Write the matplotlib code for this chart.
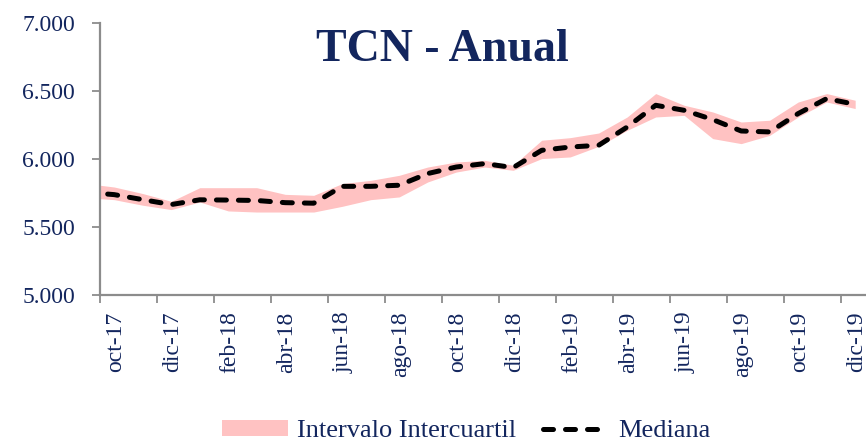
import matplotlib
matplotlib.use("Agg")
import matplotlib.pyplot as plt
import numpy as np
from matplotlib.ticker import FuncFormatter, FixedLocator
from matplotlib.patches import Patch
from matplotlib.lines import Line2D

# categories (sep-17 lies just outside the visible axis range)
months = ['sep-17', 'oct-17', 'nov-17', 'dic-17',
          'ene-18', 'feb-18', 'mar-18', 'abr-18', 'may-18', 'jun-18',
          'jul-18', 'ago-18', 'sep-18', 'oct-18', 'nov-18', 'dic-18',
          'ene-19', 'feb-19', 'mar-19', 'abr-19', 'may-19', 'jun-19',
          'jul-19', 'ago-19', 'sep-19', 'oct-19', 'nov-19', 'dic-19']
mediana = [5755, 5738, 5701, 5665,
           5700, 5698, 5695, 5679, 5675, 5799,
           5799, 5807, 5893, 5941, 5966, 5937,
           6064, 6088, 6101, 6235, 6395, 6358,
           6290, 6206, 6199, 6334, 6444, 6402]
q_sup = [5820, 5794, 5746, 5689,
         5789, 5789, 5789, 5740, 5733, 5819,
         5843, 5880, 5941, 5978, 5990, 5954,
         6138, 6157, 6191, 6309, 6481, 6395,
         6346, 6272, 6285, 6419, 6481, 6432]
q_inf = [5716, 5701, 5660, 5628,
         5684, 5618, 5610, 5610, 5610, 5652,
         5701, 5721, 5831, 5904, 5941, 5917,
         6003, 6015, 6093, 6211, 6309, 6321,
         6150, 6113, 6174, 6309, 6419, 6371]
tick_labels = ['oct-17', 'dic-17', 'feb-18', 'abr-18', 'jun-18', 'ago-18',
               'oct-18', 'dic-18', 'feb-19', 'abr-19', 'jun-19', 'ago-19',
               'oct-19', 'dic-19']
title = 'TCN - Anual'

navy = '#13265e'
axis_gray = '#8c8c8c'
band_color = '#ffc2c2'
serif = ['Liberation Serif', 'DejaVu Serif']

fig = plt.figure(figsize=(8.66, 4.44), dpi=100)
ax = fig.add_axes([100 / 866, 149 / 444, 1 - 100 / 866, 272 / 444])

x = np.arange(len(months)) - 1
ax.fill_between(x, q_inf, q_sup, color=band_color, lw=0, zorder=1)
ax.plot(x, mediana, color='black', lw=3.6, linestyle=(0, (2.0, 2.4)),
        dash_capstyle='round', solid_capstyle='round', zorder=2)

ax.set_xlim(-0.5, 26.38)
ax.set_ylim(5000, 7000)
ax.set_yticks([5000, 5500, 6000, 6500, 7000])
ax.yaxis.set_major_formatter(FuncFormatter(lambda v, p: f'{v:,.0f}'.replace(',', '.')))

label_pos = [months.index(t) - 1 for t in tick_labels]
ax.xaxis.set_major_locator(FixedLocator([p - 0.5 for p in label_pos]))
ax.xaxis.set_major_formatter(FuncFormatter(lambda v, p: ''))
ax.set_xticks([p + 0.04 for p in label_pos], minor=True)
ax.set_xticklabels(tick_labels, minor=True, rotation=90, va='top', ha='center',
                   family=serif, fontsize=17, color=navy)
ax.tick_params(axis='x', which='minor', length=0, pad=12)
ax.tick_params(axis='x', which='major', length=6, width=1.3, color=axis_gray, direction='out')
ax.tick_params(axis='y', length=6, width=1.3, color=axis_gray, direction='out', pad=12,
               labelsize=17, labelcolor=navy)
for lab in ax.get_yticklabels():
    lab.set_family(serif)

for s in ['top', 'right']:
    ax.spines[s].set_visible(False)
for s in ['left', 'bottom']:
    ax.spines[s].set_color(axis_gray)
    ax.spines[s].set_linewidth(1.6)

fig.text(442 / 866, 1 - 50 / 444, title, ha='center', va='center',
         family=serif, fontsize=33, fontweight='bold', color=navy)

handles = [Patch(facecolor=band_color, edgecolor='none'),
           Line2D([0], [0], color='black', lw=3.6, linestyle=(0, (2.0, 2.4)),
                  dash_capstyle='round')]
fig.legend(handles, ['Intervalo Intercuartil', 'Mediana'], loc='center',
           bbox_to_anchor=(466 / 866, 1 - 431 / 444), ncol=2, frameon=False,
           prop={'family': serif, 'size': 19}, labelcolor=navy,
           handlelength=2.5, handleheight=0.6, columnspacing=1.0, handletextpad=0.35,
           borderpad=0, borderaxespad=0)

fig.savefig('out.png', dpi=100, facecolor='white')
